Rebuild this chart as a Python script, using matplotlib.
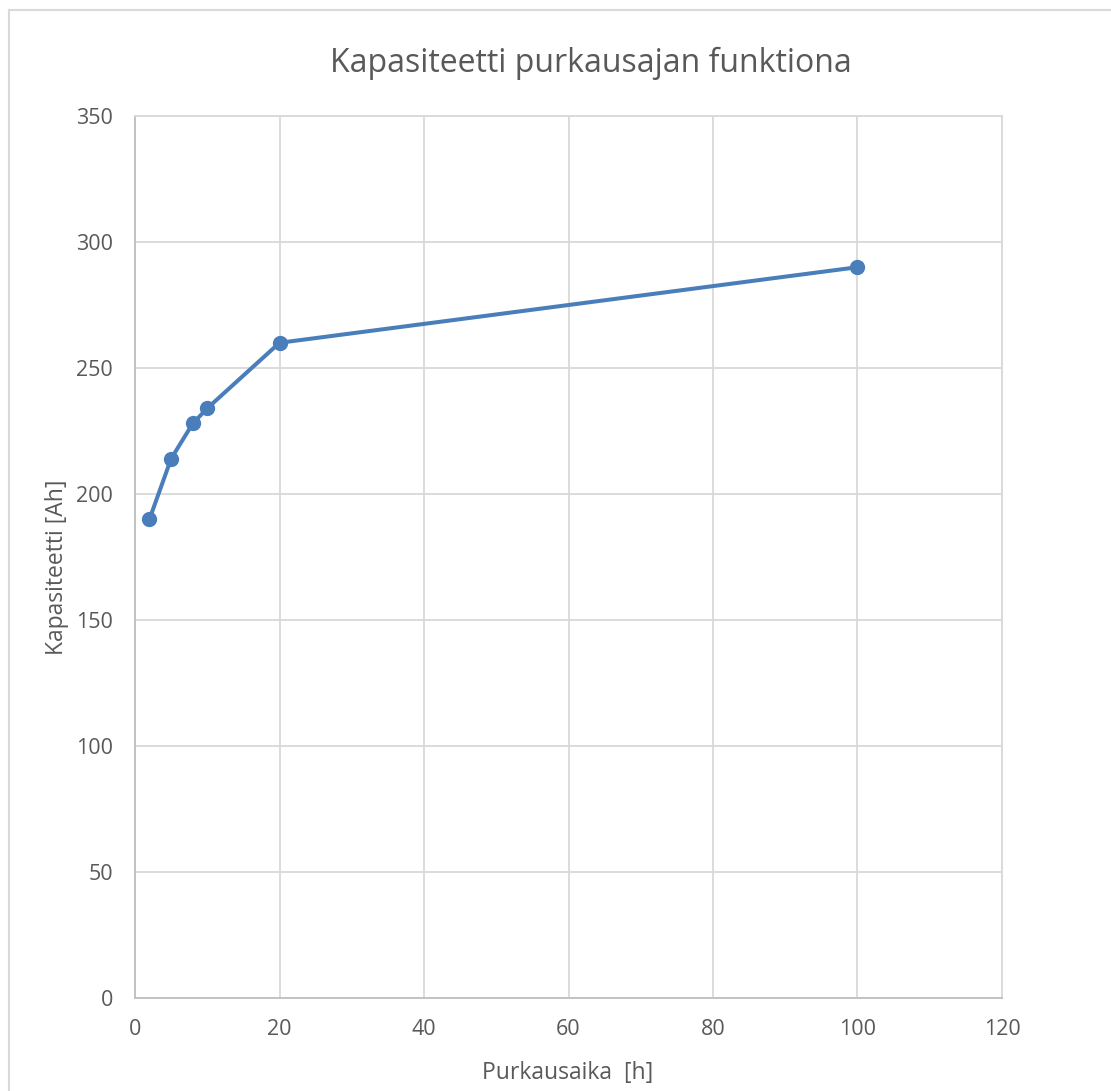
import matplotlib
matplotlib.use("Agg")
import matplotlib.pyplot as plt
from matplotlib.lines import Line2D

# Discharge time [h] vs. capacity [Ah]
discharge_time = [2, 5, 8, 10, 20, 100]
capacity = [190, 214, 228, 234, 260, 290]

x_ticks = [0, 20, 40, 60, 80, 100, 120]
y_ticks = [0, 50, 100, 150, 200, 250, 300, 350]

title = "Kapasiteetti purkausajan funktiona"
x_label = "Purkausaika  [h]"
y_label = "Kapasiteetti [Ah]"

plt.rcParams["font.family"] = ["Open Sans", "DejaVu Sans"]

W, H = 1111, 1091
fig = plt.figure(figsize=(W / 100, H / 100), dpi=100)
fig.patch.set_facecolor("white")

# outer chart border (top and left edges visible)
border_col = "#d9d9d9"
fig.add_artist(Line2D([9 / W, 9 / W], [0, 1 - 10 / H], transform=fig.transFigure,
                      color=border_col, lw=1.5))
fig.add_artist(Line2D([9 / W, 1], [1 - 10 / H, 1 - 10 / H], transform=fig.transFigure,
                      color=border_col, lw=1.5))

left, right, top, bottom = 135, 1002, 116, 998
ax = fig.add_axes([left / W, 1 - bottom / H, (right - left) / W, (bottom - top) / H])

grid_col = "#d9d9d9"
text_col = "#595959"

ax.plot(discharge_time, capacity, color="#4a7ebb", lw=2.9, marker="o",
        markersize=10, markerfacecolor="#4a7ebb", markeredgecolor="#4a7ebb",
        zorder=3, solid_capstyle="round")

ax.set_xlim(0, 120)
ax.set_ylim(0, 350)
ax.set_xticks(x_ticks)
ax.set_yticks(y_ticks)
ax.grid(True, color=grid_col, lw=1.3)
ax.set_axisbelow(True)
for s in ax.spines.values():
    s.set_color(grid_col)
    s.set_linewidth(1.3)
ax.spines["left"].set_color("#bfbfbf")
ax.spines["bottom"].set_color("#bfbfbf")
ax.tick_params(length=0, labelsize=15.5, colors=text_col)
ax.tick_params(axis="y", pad=16)
ax.tick_params(axis="x", pad=15)

fig.text(568 / W, 1 - 1073 / H, x_label, fontsize=16.5, color=text_col,
         ha="center", va="center")
fig.text(57 / W, 1 - 567 / H, y_label, fontsize=16.5, color=text_col,
         ha="center", va="center", rotation=90)
fig.text(591 / W, 1 - 63 / H, title, fontsize=23, color=text_col,
         ha="center", va="center")

fig.savefig("out.png", dpi=100)
